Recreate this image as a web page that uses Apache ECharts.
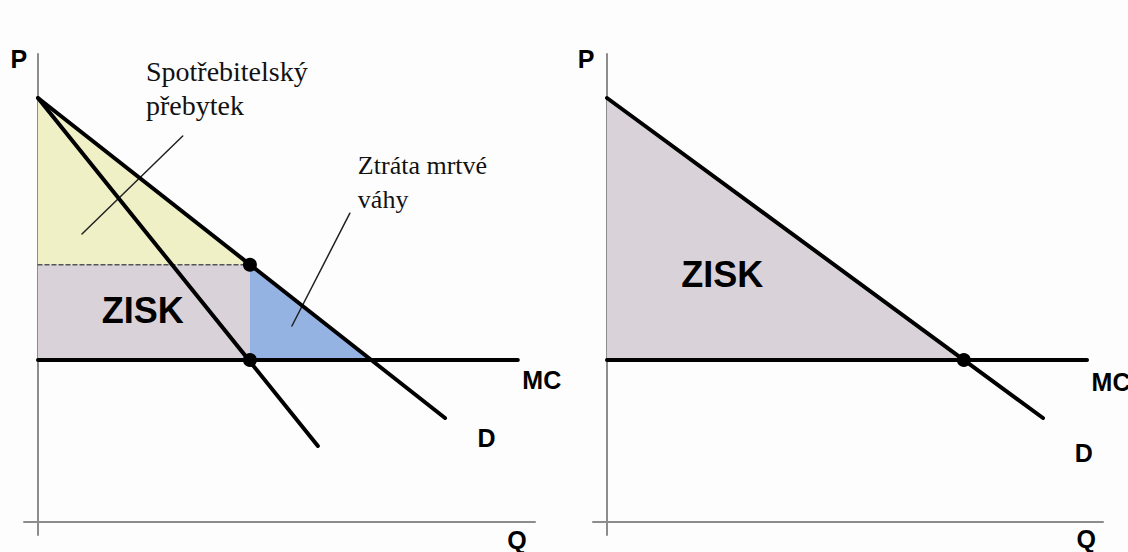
<!DOCTYPE html>
<html>
<head>
<meta charset="utf-8">
<title>Monopol</title>
<script src="https://cdn.jsdelivr.net/npm/echarts@6.0.0/dist/echarts.min.js"></script>
<style>
html,body{margin:0;padding:0;background:#fdfdfd;}
#chart{width:1128px;height:552px;}
</style>
</head>
<body>
<div id="chart"></div>
<script>
// levy graf - monopol
var demandL = [[0, 10.6], [10.18, 2.6]];
var mrL = [[0, 10.6], [7.0, 1.9]];
var mcL = [[0, 4.05], [12.0, 4.05]];
var priceLineL = [[0, 6.43], [5.3, 6.43]];
var dotsL = [[5.3, 6.43], [5.3, 4.05]];
var surplusL = [[0, 10.6], [5.3, 6.43], [0, 6.43]];
var profitL = [[0, 6.43], [5.3, 6.43], [5.3, 4.05], [0, 4.05]];
var deadweightL = [[5.3, 6.43], [8.3, 4.05], [5.3, 4.05]];
var pointer1 = [[1.1, 7.2], [3.62, 9.65]];
var pointer2 = [[6.35, 4.9], [7.8, 7.72]];

// pravy graf - dokonala cenova diskriminace
var demandR = [[0, 10.6], [10.9, 2.6]];
var mcR = [[0, 4.05], [12.0, 4.05]];
var dotsR = [[8.92, 4.05]];
var profitR = [[0, 10.6], [8.92, 4.05], [0, 4.05]];

// popisky
var axisNames = ['P', 'Q', 'MC', 'D'];
var axisNamesPosL = [[-0.48, 11.58], [11.98, -0.46], [12.6, 3.55], [11.22, 2.1]];
var axisNamesPosR = [[-0.52, 11.58], [11.98, -0.43], [12.6, 3.5], [11.92, 1.72]];
var profitText = 'ZISK';
var profitTextPosL = [2.62, 5.3];
var profitTextPosR = [2.88, 6.18];
var noteTexts = ['Spotřebitelský\npřebytek', 'Ztráta mrtvé\nváhy'];
var notePos = [[2.7, 10.85], [8.0, 8.5]];
var noteSizes = [28, 26];

var chart = echarts.init(document.getElementById('chart'), null, {renderer: 'svg'});

function xAxis(i, max) {
    return {
        type: 'value', gridIndex: i, min: -0.35, max: max,
        axisLine: {onZero: true, lineStyle: {color: '#8c8c8c', width: 2}},
        axisTick: {show: false}, axisLabel: {show: false}, splitLine: {show: false}
    };
}
function yAxis(i) {
    return {
        type: 'value', gridIndex: i, min: -0.325, max: 11.7,
        axisLine: {onZero: true, lineStyle: {color: '#8c8c8c', width: 2}},
        axisTick: {show: false}, axisLabel: {show: false}, splitLine: {show: false}
    };
}

function polygon(points, color, i) {
    return {
        type: 'custom', xAxisIndex: i, yAxisIndex: i, data: points, z: 1, silent: true,
        renderItem: function (params, api) {
            if (params.dataIndex !== 0) return;
            return {
                type: 'polygon',
                shape: {points: points.map(function (p) { return api.coord(p); })},
                style: {fill: color}
            };
        }
    };
}

function line(points, i, width, color, type) {
    return {
        type: 'line', xAxisIndex: i, yAxisIndex: i, data: points, symbol: 'none', z: 3, silent: true,
        lineStyle: {width: width, color: color, type: type || 'solid', cap: 'round'}
    };
}

function dots(points, i) {
    return {
        type: 'scatter', xAxisIndex: i, yAxisIndex: i, data: points, z: 4, silent: true,
        symbolSize: 14, itemStyle: {color: '#000', opacity: 1}
    };
}

var sansLabel = {fontFamily: 'Liberation Sans', fontWeight: 'bold', fontSize: 25, color: '#000'};
var zisklabel = {fontFamily: 'Liberation Sans', fontWeight: 'bold', fontSize: 36, color: '#000'};

function texts(names, pos, zisk, i, notes) {
    var data = names.map(function (n, k) {
        return {name: n, value: pos[k], label: sansLabel};
    });
    data.push({name: profitText, value: zisk, label: zisklabel});
    if (notes) {
        noteTexts.forEach(function (t, k) {
            data.push({name: t, value: notePos[k], label: {
                fontFamily: 'Liberation Serif', fontSize: noteSizes[k], lineHeight: 34,
                color: '#111', align: 'left'
            }});
        });
    }
    return {
        type: 'scatter', xAxisIndex: i, yAxisIndex: i, data: data, z: 5, silent: true,
        symbolSize: 0, clip: false, itemStyle: {opacity: 1},
        label: {show: true, position: 'inside', formatter: '{b}'}
    };
}

chart.setOption({
    animation: false,
    backgroundColor: '#fdfdfd',
    grid: [
        {left: 24, top: 54, width: 511, height: 481},
        {left: 593, top: 54, width: 510, height: 481}
    ],
    xAxis: [xAxis(0, 12.43), xAxis(1, 12.4)],
    yAxis: [yAxis(0), yAxis(1)],
    series: [
        polygon(surplusL, '#eff0c6', 0),
        polygon(profitL, '#d9d3d9', 0),
        polygon(deadweightL, '#94b2e2', 0),
        line(priceLineL, 0, 1.5, '#555', [4, 3]),
        line(pointer1, 0, 1.5, '#222'),
        line(pointer2, 0, 1.5, '#222'),
        line(mcL, 0, 4, '#000'),
        line(demandL, 0, 4, '#000'),
        line(mrL, 0, 4, '#000'),
        dots(dotsL, 0),
        texts(axisNames, axisNamesPosL, profitTextPosL, 0, true),

        polygon(profitR, '#d9d3d9', 1),
        line(mcR, 1, 4, '#000'),
        line(demandR, 1, 4, '#000'),
        dots(dotsR, 1),
        texts(axisNames, axisNamesPosR, profitTextPosR, 1, false)
    ]
});
</script>
</body>
</html>
